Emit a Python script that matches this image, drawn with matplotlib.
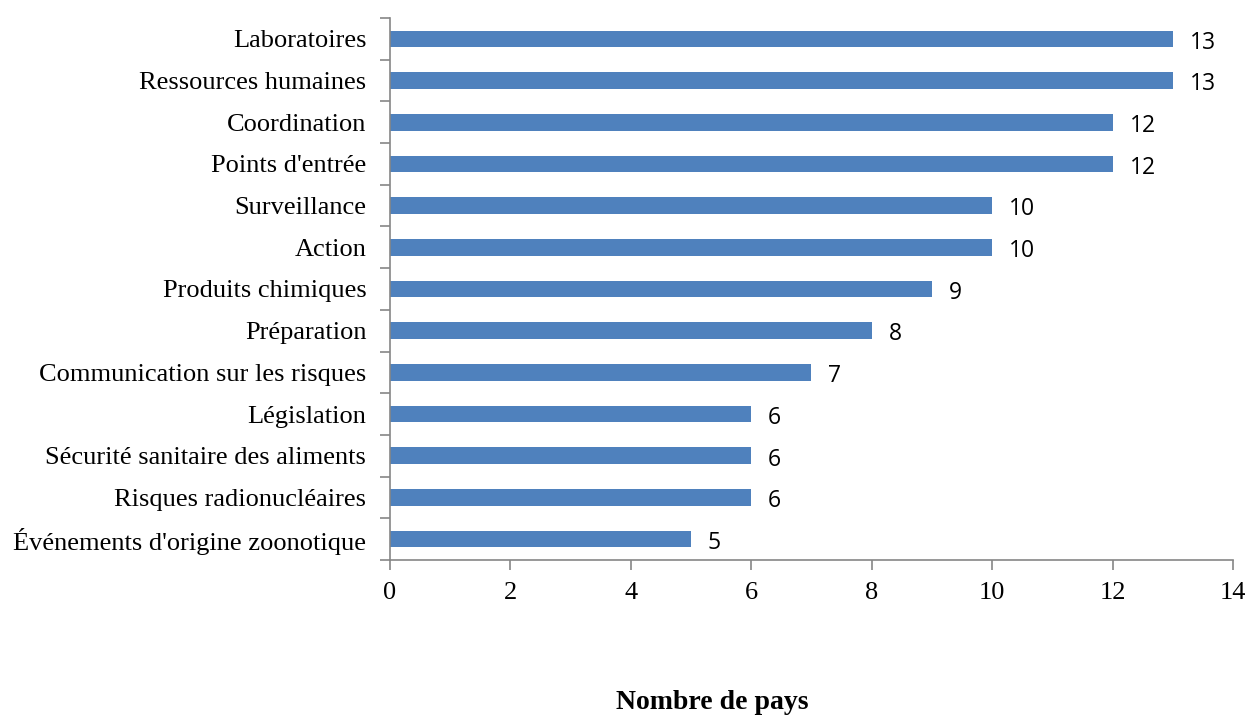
import numpy as np
import matplotlib.pyplot as plt

categories = ["Laboratoires", "Ressources humaines", "Coordination", "Points d'entrée",
              "Surveillance", "Action", "Produits chimiques", "Préparation",
              "Communication sur les risques", "Législation",
              "Sécurité sanitaire des aliments", "Risques radionucléaires",
              "Événements d'origine zoonotique"]
values = [13, 13, 12, 12, 10, 10, 9, 8, 7, 6, 6, 6, 5]

fig = plt.figure(figsize=(12.49, 7.17), dpi=100)
ax = fig.add_axes([0.3122, 0.219, 0.6750, 0.7559])

n = len(categories)
y = np.arange(n)[::-1]
ax.barh(y, values, height=0.4, color='#4F81BD', edgecolor='#4F81BD', linewidth=0)

for yi, v in zip(y, values):
    ax.text(v + 0.28, yi - 0.09, str(v), va='center', ha='left', fontsize=16.5,
            family='Open Sans', color='black')

ax.set_xlim(0, 14)
ax.set_ylim(-0.5, n - 0.5)
ax.set_xticks(range(0, 15, 2))
ax.set_xticklabels([str(t) for t in range(0, 15, 2)], family='Liberation Serif', fontsize=19)

ax.set_yticks(y)
ax.set_yticklabels(categories, family='Liberation Serif', fontsize=19)
ax.tick_params(axis='y', length=0, pad=17)
# ticks sit between categories on the y axis
ax.set_yticks(np.arange(-0.5, n, 1), minor=True)
ax.tick_params(axis='y', which='minor', length=7, color='#868686', width=1.2)
ax.tick_params(axis='x', length=7, color='#868686', width=1.2, pad=9)

for s in ['top', 'right']:
    ax.spines[s].set_visible(False)
for s in ['left', 'bottom']:
    ax.spines[s].set_color('#868686')
    ax.spines[s].set_linewidth(1.2)

fig.text(0.570, 0.0115, 'Nombre de pays', ha='center', va='baseline',
         family='Liberation Serif', fontweight='bold', fontsize=20)

fig.savefig('out.png', dpi=100)
